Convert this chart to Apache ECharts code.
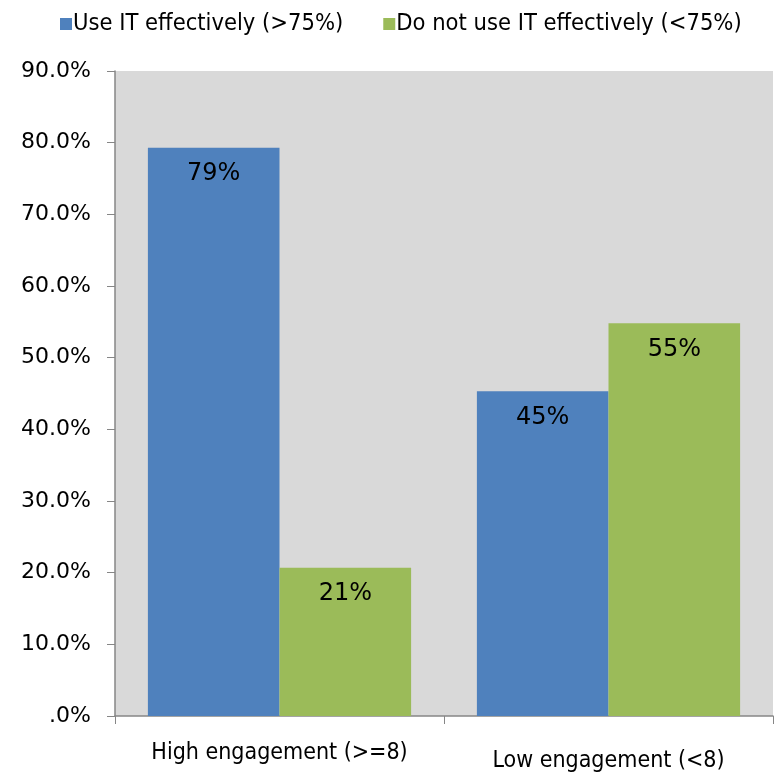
<!DOCTYPE html>
<html>
<head>
<meta charset="utf-8">
<script src="https://cdn.jsdelivr.net/npm/echarts@6/dist/echarts.min.js"></script>
<style>
  html, body { margin: 0; padding: 0; background: #fff; }
  #visualisation { width: 774px; height: 773px; }
</style>
</head>
<body>
<div id="visualisation"></div>
<script>
// Data
const categories = ['High engagement (>=8)', 'Low engagement (<8)'];
const useIT = [79.3, 45.3];
const notUseIT = [20.7, 54.8];
const seriesNames = ['Use IT effectively (>75%)', 'Do not use IT effectively (<75%)'];

function drawVisualisation() {
  let visualisation = echarts.init(document.getElementById('visualisation'));

  const fontFamily = '"DejaVu Sans", sans-serif';
  const condensed = '"DejaVu Sans Condensed", "DejaVu Sans", sans-serif';

  const barLabel = {
    show: true,
    position: 'insideTop',
    distance: 14,
    color: '#000',
    fontFamily: fontFamily,
    fontSize: 24,
    formatter: p => Math.round(p.value) + '%'
  };

  let option = {
    animation: false,
    legend: {
      top: 7,
      left: 55,
      itemWidth: 12,
      itemHeight: 12,
      itemGap: 40,
      icon: 'rect',
      textStyle: { fontFamily: condensed, fontSize: 23.5, color: '#000', padding: [0, 0, 0, -4] }
    },
    grid: {
      left: 115, right: 1, top: 71, bottom: 57,
      show: true, backgroundColor: '#D9D9D9', borderWidth: 0
    },
    xAxis: {
      type: 'category',
      data: [
        { value: categories[0] },
        { value: categories[1], textStyle: { padding: [8, 0, 0, 0] } }
      ],
      axisLine: { lineStyle: { color: '#868686', width: 1.5 } },
      axisTick: { show: true, length: 8, lineStyle: { color: '#868686' } },
      axisLabel: { interval: 0, hideOverlap: false, margin: 26, fontFamily: condensed, fontSize: 23, color: '#000' }
    },
    yAxis: {
      type: 'value',
      min: 0, max: 90, interval: 10,
      splitLine: { show: false },
      axisLine: { show: true, lineStyle: { color: '#868686', width: 1.5 } },
      axisTick: { show: true, length: 8, lineStyle: { color: '#868686' } },
      axisLabel: {
        margin: 24,
        fontFamily: fontFamily, fontSize: 22, color: '#000',
        formatter: v => v === 0 ? '.0%' : v.toFixed(1) + '%'
      }
    },
    series: [
      { name: seriesNames[0], type: 'bar', data: useIT, barGap: 0, barCategoryGap: '20%',
        itemStyle: { color: '#4F81BD' }, label: barLabel },
      { name: seriesNames[1], type: 'bar', data: notUseIT,
        itemStyle: { color: '#9BBB59' }, label: barLabel }
    ]
  };

  visualisation.setOption(option);
}

window.addEventListener('load', drawVisualisation);
</script>
</body>
</html>
